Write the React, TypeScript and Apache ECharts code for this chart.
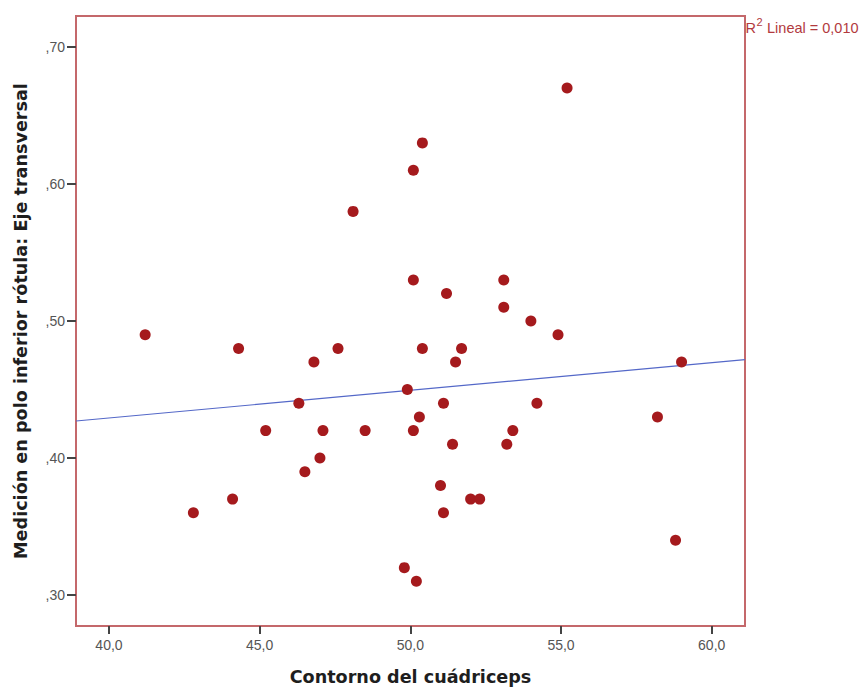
import React, { useEffect, useRef } from "react";
import * as echarts from "echarts";

const contornoX: number[] = [
  41.2, 42.8, 44.1, 44.3, 45.2, 46.3, 46.5, 46.8, 47.0, 47.1, 47.6, 48.1, 48.5,
  49.8, 49.9, 50.1, 50.1, 50.1, 50.2, 50.3, 50.4, 50.4, 51.0, 51.1, 51.1, 51.2,
  51.4, 51.5, 51.7, 52.0, 52.3, 53.1, 53.1, 53.2, 53.4, 54.0, 54.2, 54.9, 55.2,
  58.2, 58.8, 59.0,
];
const medicionY: number[] = [
  0.49, 0.36, 0.37, 0.48, 0.42, 0.44, 0.39, 0.47, 0.40, 0.42, 0.48, 0.58, 0.42,
  0.32, 0.45, 0.61, 0.53, 0.42, 0.31, 0.43, 0.63, 0.48, 0.38, 0.44, 0.36, 0.52,
  0.41, 0.47, 0.48, 0.37, 0.37, 0.53, 0.51, 0.41, 0.42, 0.50, 0.44, 0.49, 0.67,
  0.43, 0.34, 0.47,
];
const xTickLabels: string[] = ["40,0", "45,0", "50,0", "55,0", "60,0"];
const yTickLabels: string[] = [",30", ",40", ",50", ",60", ",70"];
const xAxisTitle = "Contorno del cuádriceps";
const yAxisTitle = "Medición en polo inferior rótula: Eje transversal";
const r2Label = "0,010";

const X_MIN = 38.905;
const X_MAX = 61.105;
const Y_MIN = 0.2774;
const Y_MAX = 0.7226;

function fitLine(xs: number[], ys: number[]) {
  const n = xs.length;
  const mx = xs.reduce((a, b) => a + b, 0) / n;
  const my = ys.reduce((a, b) => a + b, 0) / n;
  let sxy = 0;
  let sxx = 0;
  for (let i = 0; i < n; i++) {
    sxy += (xs[i] - mx) * (ys[i] - my);
    sxx += (xs[i] - mx) * (xs[i] - mx);
  }
  const b = sxy / sxx;
  const a = my - b * mx;
  return { a, b };
}

export default function App() {
  const ref = useRef<HTMLDivElement>(null);
  useEffect(() => {
    if (!ref.current) return;
    const chart = echarts.init(ref.current, undefined, { renderer: "svg" });
    const points = contornoX.map((x, i) => [x, medicionY[i]]);
    const { a, b } = fitLine(contornoX, medicionY);
    const fit = [
      [X_MIN, a + b * X_MIN],
      [X_MAX, a + b * X_MAX],
    ];
    const font = "'Liberation Sans', Arial, sans-serif";
    const titleFont = "'DejaVu Sans', sans-serif";
    const r2Color = "#b23a3e";
    chart.setOption({
      animation: false,
      backgroundColor: "#ffffff",
      grid: {
        left: 76,
        right: 120,
        top: 16,
        bottom: 65,
        show: true,
        borderColor: "#c4686b",
        borderWidth: 2,
        backgroundColor: "#ffffff",
      },
      xAxis: {
        type: "value",
        min: X_MIN,
        max: X_MAX,
        interval: 5,
        name: xAxisTitle,
        nameLocation: "middle",
        nameGap: 42,
        nameTextStyle: {
          fontFamily: titleFont,
          fontWeight: "bold",
          fontSize: 17.6,
          color: "#1e1e1e",
        },
        axisLine: { show: false },
        axisTick: {
          show: true,
          length: 8,
          lineStyle: { color: "#444444", width: 2 },
          customValues: [40, 45, 50, 55, 60],
        },
        axisLabel: {
          show: true,
          margin: 12,
          fontFamily: font,
          fontSize: 14,
          color: "#555555",
          customValues: [40, 45, 50, 55, 60],
          formatter: (v: number) => xTickLabels[Math.round((v - 40) / 5)] ?? "",
        },
        splitLine: { show: false },
      },
      yAxis: {
        type: "value",
        min: Y_MIN,
        max: Y_MAX,
        name: yAxisTitle,
        nameLocation: "middle",
        nameGap: 46,
        nameTextStyle: {
          fontFamily: titleFont,
          fontWeight: "bold",
          fontSize: 17.6,
          color: "#1e1e1e",
        },
        axisLine: { show: false },
        axisTick: {
          show: true,
          length: 9,
          lineStyle: { color: "#444444", width: 2 },
          customValues: [0.3, 0.4, 0.5, 0.6, 0.7],
        },
        axisLabel: {
          show: true,
          margin: 11,
          fontFamily: font,
          fontSize: 14,
          color: "#555555",
          customValues: [0.3, 0.4, 0.5, 0.6, 0.7],
          formatter: (v: number) =>
            yTickLabels[Math.round((v - 0.3) / 0.1)] ?? "",
        },
        splitLine: { show: false },
      },
      graphic: [
        {
          type: "text",
          x: 745.5,
          y: 28,
          style: {
            text: "R",
            fontFamily: font,
            fontSize: 14.5,
            fill: r2Color,
            verticalAlign: "middle",
            align: "left",
          },
        },
        {
          type: "text",
          x: 756.5,
          y: 21.5,
          style: {
            text: "2",
            fontFamily: font,
            fontSize: 11,
            fill: r2Color,
            verticalAlign: "middle",
            align: "left",
          },
        },
        {
          type: "text",
          x: 763,
          y: 28,
          style: {
            text: " Lineal = " + r2Label,
            fontFamily: font,
            fontSize: 14.5,
            fill: r2Color,
            verticalAlign: "middle",
            align: "left",
          },
        },
      ],
      series: [
        {
          type: "line",
          data: fit,
          symbol: "none",
          silent: true,
          lineStyle: { color: "#5468c8", width: 1.2 },
          z: 2,
        },
        {
          type: "scatter",
          data: points,
          symbolSize: 11,
          itemStyle: { color: "#a51a1d", opacity: 1 },
          z: 3,
        },
      ],
    });
    return () => chart.dispose();
  }, []);
  return (
    <div
      ref={ref}
      style={{ position: "fixed", left: 0, top: 0, width: 865, height: 691 }}
    />
  );
}
